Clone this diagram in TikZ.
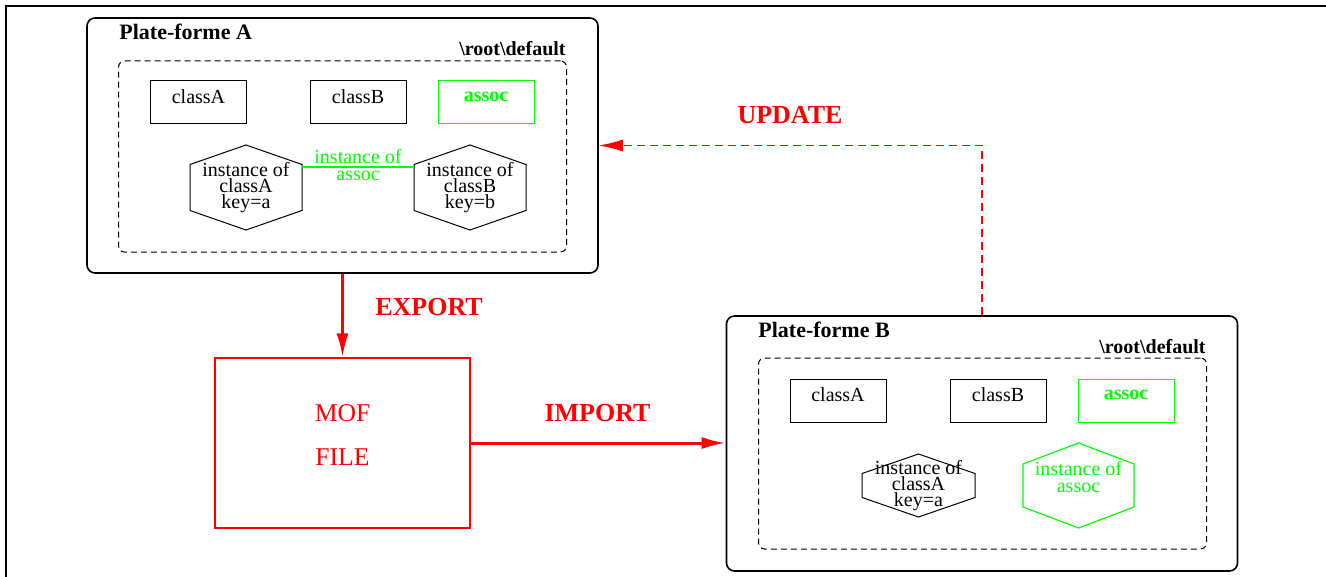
\documentclass[tikz,border=0pt]{standalone}
\usepackage{fontspec}
\setmainfont{Liberation Serif}
\usepackage{tikz}
\usetikzlibrary{arrows.meta}

\tikzset{
  platebox/.style={draw, line width=0.8pt, rounded corners=4pt, minimum width=255.5pt, minimum height=127.5pt, inner sep=0pt},
  spacebox/.style={draw, line width=0.5pt, dash pattern=on 3pt off 2pt, rounded corners=3pt, minimum width=224pt, minimum height=95.5pt, inner sep=0pt},
  classbox/.style={draw, line width=0.5pt, minimum width=48pt, minimum height=21.5pt, inner sep=0pt, text depth=5.5pt, font=\fontsize{10pt}{12pt}\selectfont},
  hextext/.style={align=center, inner sep=0pt, minimum width=56pt, font=\fontsize{10pt}{8pt}\selectfont},
  title/.style={inner sep=0pt, font=\fontsize{11pt}{13pt}\selectfont\bfseries},
  rootname/.style={inner sep=0pt, font=\fontsize{10pt}{12pt}\selectfont\bfseries},
  flowlabel/.style={red, inner sep=0pt, font=\fontsize{13pt}{15pt}\selectfont\bfseries},
  flow/.style={red, line width=1.5pt, -{Latex[length=12pt,width=6pt]}},
  pics/hexa/.style args={#1/#2/#3}{code={
    \draw (-#1,-#3) -- (0,-#2-#3) -- (#1,-#3) -- (#1,#3) -- (0,#2+#3) -- (-#1,#3) -- cycle;}}
}

\begin{document}
\begin{tikzpicture}[x=0.5pt,y=-0.5pt]
\useasboundingbox (0,0) rectangle (1326,577);
\draw [line width=1pt] (6,577) -- (6,6) -- (1326,6) ;
% plate-forme A
\node [platebox] (plateA) at (342.5,145.5) {} ;
\node [title, anchor=west] (titleA) at (119,32) {Plate-forme A} ;
\node [rootname, anchor=east] (rootA) at (566,49) {\textbackslash root\textbackslash default} ;
\node [spacebox] (spaceA) at (342.5,156.5) {} ;
\node [classbox] (classAa) at (198.5,102.5) {classA} ;
\node [classbox] (classBa) at (358,102.5) {classB} ;
\node [classbox, green, font=\fontsize{10pt}{12pt}\selectfont\bfseries] (assocA) at (486,102.5) {assoc} ;
\node [hextext] (instAa) at (246,187.5) {instance of\\classA\\key=a} ;
\pic [line width=0.5pt] at (instAa) {hexa=56/19.5/23} ;
\node [hextext] (instBa) at (470,187.5) {instance of\\classB\\key=b} ;
\pic [line width=0.5pt] at (instBa) {hexa=56/19.5/23} ;
\draw [green, line width=0.6pt] ([yshift=10.25pt]instAa.east) -- ([yshift=10.25pt]instBa.west) ;
\node [hextext, green, font=\fontsize{10pt}{8.5pt}\selectfont] (linkA) at (358,165.5) {instance of\\assoc} ;
% fichier MOF
\node [draw=red, line width=0.6pt, minimum width=127.5pt, minimum height=85pt, align=center, red,
       text depth=8pt, font=\fontsize{12.8pt}{22pt}\selectfont] (mof) at (342.5,443) {MOF\\FILE} ;
% plate-forme B
\node [platebox] (plateB) at (982,443.5) {} ;
\node [title, anchor=west] (titleB) at (758,330) {Plate-forme B} ;
\node [rootname, anchor=east] (rootB) at (1206,347) {\textbackslash root\textbackslash default} ;
\node [spacebox] (spaceB) at (982.5,453.5) {} ;
\node [classbox] (classAb) at (838,400.5) {classA} ;
\node [classbox] (classBb) at (998,400.5) {classB} ;
\node [classbox, green, font=\fontsize{10pt}{12pt}\selectfont\bfseries] (assocB) at (1126,400.5) {assoc} ;
\node [hextext] (instAb) at (918.5,485.5) {instance of\\classA\\key=a} ;
\pic [line width=0.5pt] at (instAb) {hexa=56.5/19.5/12} ;
\node [hextext, green, font=\fontsize{10pt}{8.5pt}\selectfont] (instAssoc) at (1078.5,477.5) {instance of\\assoc} ;
\pic [green, line width=0.6pt] at (1078.5,485.5) {hexa=55.5/21/21.5} ;
% echanges
\draw [flow] (plateA) -- (mof) ;
\node [flowlabel] (export) at (429,307) {EXPORT} ;
\draw [flow] (mof.east) -- (mof.east -| plateB.west) ;
\node [flowlabel] (import) at (597.5,413) {IMPORT} ;
\draw [red, line width=0.6pt, dash pattern=on 4pt off 2.5pt, -{Latex[length=12pt,width=6pt]}] (plateB.north) |- (plateA.east) ;
\node [flowlabel] (update) at (790,115) {UPDATE} ;
\end{tikzpicture}
\end{document}
